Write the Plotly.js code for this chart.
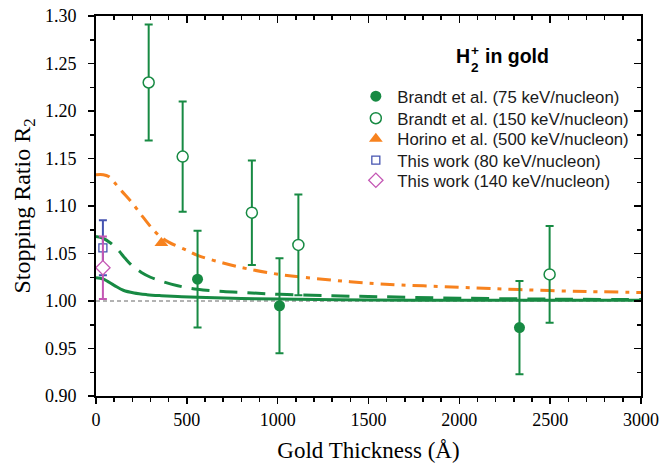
<!DOCTYPE html>
<html>
<head>
<meta charset="utf-8">
<script src="https://cdn.plot.ly/plotly-3.0.1.min.js"></script>
<style>html,body{margin:0;padding:0;background:#fff;}#chart{width:660px;height:463px;}</style>
</head>
<body>
<div id="chart"></div>
<script>
// ---- data ----
const brandt75X = [559, 1010, 2331];
const brandt75Y = [1.023, 0.995, 0.972];
const brandt75Err = [0.051, 0.050, 0.049];

const brandt150X = [290, 477, 858, 1114, 2497];
const brandt150Y = [1.230, 1.152, 1.093, 1.059, 1.028];
const brandt150Err = [0.061, 0.058, 0.055, 0.053, 0.051];

const horinoX = [360];
const horinoY = [1.061];

const work80X = [38];
const work80Y = [1.056];
const work80Err = [0.029];

const work140X = [38];
const work140Y = [1.035];
const work140Err = [0.033];

const solidX = [0, 40, 100, 150, 210, 280, 360, 450, 560, 800, 1000, 1500, 2000, 2500, 3000];
const solidY = [1.0245, 1.023, 1.0165, 1.0113, 1.0084, 1.0067, 1.0056, 1.0047, 1.0039, 1.0027, 1.002, 1.001, 1.0009, 1.0008, 1.0007];

const dashX = [0, 40, 80, 120, 160, 200, 250, 300, 373, 450, 559, 700, 831, 1015, 1300, 1565, 2000, 2500, 3000];
const dashY = [1.068, 1.066, 1.061, 1.054, 1.045, 1.037, 1.030, 1.025, 1.020, 1.016, 1.0123, 1.010, 1.0088, 1.007, 1.0055, 1.0045, 1.003, 1.002, 1.0015];

const orangeX = [0, 40, 70, 100, 140, 200, 260, 330, 400, 500, 559, 700, 831, 1015, 1300, 1565, 2000, 2332, 2700, 3000];
const orangeY = [1.133, 1.133, 1.131, 1.125, 1.116, 1.103, 1.088, 1.072, 1.062, 1.0534, 1.048, 1.040, 1.034, 1.0278, 1.022, 1.018, 1.0145, 1.012, 1.010, 1.009];

const baseX = [0, 3000];
const baseY = [1.0, 1.0];

const xTickVals = [0, 500, 1000, 1500, 2000, 2500, 3000];
const yTickVals = [0.90, 0.95, 1.00, 1.05, 1.10, 1.15, 1.20, 1.25, 1.30];

// ---- styling ----
const green = '#178a43';
const orange = '#f7821e';
const blue = '#4553b0';
const pink = '#c457b4';

const traces = [
  {x: baseX, y: baseY, mode: 'lines', line: {color: '#666', width: 1, dash: '4px,3px'}, showlegend: false, hoverinfo: 'skip'},
  {x: orangeX, y: orangeY, mode: 'lines', line: {color: orange, width: 3, dash: '14px,7px,4px,7px', shape: 'spline'}, showlegend: false},
  {x: dashX, y: dashY, mode: 'lines', line: {color: green, width: 3, dash: '18px,10px', shape: 'spline'}, showlegend: false},
  {x: solidX, y: solidY, mode: 'lines', line: {color: green, width: 3, shape: 'spline'}, showlegend: false},
  {x: brandt75X, y: brandt75Y, mode: 'markers', name: 'Brandt et al. (75 keV/nucleon)', legend: 'legend',
   marker: {symbol: 'circle', size: 11, color: green},
   error_y: {type: 'data', array: brandt75Err, color: green, thickness: 2, width: 4}},
  {x: brandt150X, y: brandt150Y, mode: 'markers', name: 'Brandt et al. (150 keV/nucleon)', legend: 'legend2',
   marker: {symbol: 'circle', size: 11, color: '#fff', line: {color: green, width: 1.5}},
   error_y: {type: 'data', array: brandt150Err, color: green, thickness: 2, width: 4}},
  {x: horinoX, y: horinoY, mode: 'markers', name: 'Horino et al. (500 keV/nucleon)', legend: 'legend3',
   marker: {symbol: 'triangle-up', size: 12, color: orange}},
  {x: work80X, y: work80Y, mode: 'markers', name: 'This work (80 keV/nucleon)', legend: 'legend4',
   marker: {symbol: 'square', size: 8, color: '#fff', line: {color: blue, width: 1.3}},
   error_y: {type: 'data', array: work80Err, color: blue, thickness: 2, width: 4}},
  {x: work140X, y: work140Y, mode: 'markers', name: 'This work (140 keV/nucleon)', legend: 'legend5',
   marker: {symbol: 'diamond', size: 11, color: '#fff', line: {color: pink, width: 1.3}},
   error_y: {type: 'data', array: work140Err, color: pink, thickness: 2, width: 4}},
  // helper (invisible) trace so the mirrored top/right axes are drawn
  {x: baseX, y: baseY, xaxis: 'x2', yaxis: 'y2', mode: 'markers', marker: {opacity: 0}, showlegend: false, hoverinfo: 'skip'}
];

const serif = 'Liberation Serif, Times New Roman, serif';
const sans = 'Liberation Sans, Arial, sans-serif';

const axisCommon = {
  showgrid: false, zeroline: false, showline: true, linecolor: '#000', linewidth: 2,
  tickcolor: '#000', tickwidth: 1.5
};

function legendAt(py) {
  return {
    x: 0.474, y: 1 - (py - 15.7) / 380, xanchor: 'left', yanchor: 'middle',
    bgcolor: 'rgba(0,0,0,0)', borderwidth: 0,
    font: {family: sans, size: 16.8, color: '#1a1a1a'},
    itemwidth: 33
  };
}

// helpers to convert pixel positions in the plot frame to paper coords
const pxX = px => (px - 95.5) / 546;
const pxY = py => 1 - (py - 15.7) / 380;

const titleFont = {family: sans, size: 19.5, color: '#000'};
const smallFont = {family: sans, size: 13.6, color: '#000'};

const layout = {
  width: 660, height: 463,
  margin: {l: 95.5, r: 18.5, t: 15.7, b: 67.3},
  paper_bgcolor: '#fff', plot_bgcolor: '#fff',
  showlegend: true,
  xaxis: Object.assign({}, axisCommon, {
    range: [0, 3000], tickvals: xTickVals, ticks: 'outside', ticklen: 6,
    tickfont: {family: serif, size: 18, color: '#000'},
    minor: {dtick: 100, ticks: 'outside', ticklen: 4, tickwidth: 1.5, tickcolor: '#000'},
    title: {text: 'Gold Thickness (Å)', font: {family: serif, size: 23, color: '#000'}, standoff: 14}
  }),
  yaxis: Object.assign({}, axisCommon, {
    range: [0.9, 1.3], tickvals: yTickVals, tickformat: '.2f', ticks: 'outside', ticklen: 6,
    ticklabelstandoff: 8,
    tickfont: {family: serif, size: 18, color: '#000'},
    minor: {dtick: 0.025, tick0: 0.9, ticks: 'outside', ticklen: 4, tickwidth: 1.5, tickcolor: '#000'},
    title: {text: 'Stopping Ratio R<sub>2</sub>', font: {family: serif, size: 24, color: '#000'}, standoff: 8}
  }),
  xaxis2: Object.assign({}, axisCommon, {
    overlaying: 'x', side: 'top', anchor: 'y2', range: [0, 3000], tickvals: xTickVals,
    ticks: 'inside', ticklen: 7, showticklabels: false,
    minor: {dtick: 100, ticks: 'inside', ticklen: 4, tickwidth: 1.5, tickcolor: '#000'}
  }),
  yaxis2: Object.assign({}, axisCommon, {
    overlaying: 'y', side: 'right', anchor: 'x2', range: [0.9, 1.3], tickvals: yTickVals,
    ticks: 'inside', ticklen: 7, showticklabels: false,
    minor: {dtick: 0.025, tick0: 0.9, ticks: 'inside', ticklen: 4, tickwidth: 1.5, tickcolor: '#000'}
  }),
  legend: legendAt(96),
  legend2: legendAt(118),
  legend3: legendAt(138.5),
  legend4: legendAt(160),
  legend5: legendAt(180),
  annotations: [
    {xref: 'paper', yref: 'paper', x: pxX(454.5), y: pxY(55.5), xanchor: 'left', yanchor: 'middle',
     text: '<b>H</b>', showarrow: false, font: titleFont},
    {xref: 'paper', yref: 'paper', x: pxX(475.5), y: pxY(66.5), xanchor: 'center', yanchor: 'middle',
     text: '<b>2</b>', showarrow: false, font: smallFont, width: 8, height: 14},
    {xref: 'paper', yref: 'paper', x: pxX(475.5), y: pxY(50), xanchor: 'center', yanchor: 'middle',
     text: '<b>+</b>', showarrow: false, font: smallFont, width: 8, height: 14},
    {xref: 'paper', yref: 'paper', x: pxX(483.5), y: pxY(55.5), xanchor: 'left', yanchor: 'middle',
     text: '<b>in gold</b>', showarrow: false, font: titleFont}
  ]
};

Plotly.newPlot('chart', traces, layout, {displayModeBar: false, staticPlot: true});
</script>
</body>
</html>
